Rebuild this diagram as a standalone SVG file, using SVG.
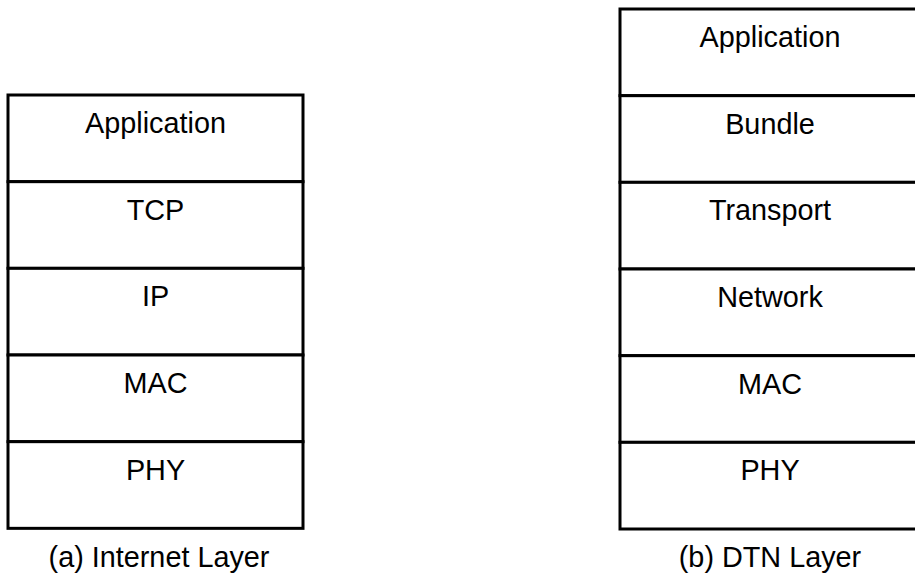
<svg xmlns="http://www.w3.org/2000/svg" width="915" height="580" viewBox="0 0 915 580">
<style>
.box{fill:#fff;stroke:#000;stroke-width:3}
.t{font-family:"Liberation Sans",Arial,sans-serif;font-size:28.8px;fill:#000;text-anchor:middle}
</style>
<rect width="915" height="580" fill="#fff"/>
<g id="internet-stack">
<g id="i-app"><rect class="box" x="8" y="95" width="295" height="86.67"/><text class="t" x="155.5" y="133">Application</text></g>
<g id="i-tcp"><rect class="box" x="8" y="181.67" width="295" height="86.67"/><text class="t" x="155.5" y="219.7">TCP</text></g>
<g id="i-ip"><rect class="box" x="8" y="268.33" width="295" height="86.67"/><text class="t" x="155.5" y="306.3">IP</text></g>
<g id="i-mac"><rect class="box" x="8" y="355" width="295" height="86.67"/><text class="t" x="155.5" y="393">MAC</text></g>
<g id="i-phy"><rect class="box" x="8" y="441.67" width="295" height="86.67"/><text class="t" x="155.5" y="479.7">PHY</text></g>
</g>
<g id="dtn-stack">
<g id="d-app"><rect class="box" x="620" y="9" width="300" height="86.67"/><text class="t" x="770" y="47">Application</text></g>
<g id="d-bundle"><rect class="box" x="620" y="95.67" width="300" height="86.67"/><text class="t" x="770" y="133.7">Bundle</text></g>
<g id="d-transport"><rect class="box" x="620" y="182.33" width="300" height="86.67"/><text class="t" x="770" y="220.3">Transport</text></g>
<g id="d-network"><rect class="box" x="620" y="269" width="300" height="86.67"/><text class="t" x="770" y="307">Network</text></g>
<g id="d-mac"><rect class="box" x="620" y="355.67" width="300" height="86.67"/><text class="t" x="770" y="393.7">MAC</text></g>
<g id="d-phy"><rect class="box" x="620" y="442.33" width="300" height="86.67"/><text class="t" x="770" y="480.3">PHY</text></g>
</g>
<g id="connectors"></g>
<g id="captions">
<text class="t" x="159" y="567">(a) Internet Layer</text>
<text class="t" x="770" y="567">(b) DTN Layer</text>
</g>
</svg>
